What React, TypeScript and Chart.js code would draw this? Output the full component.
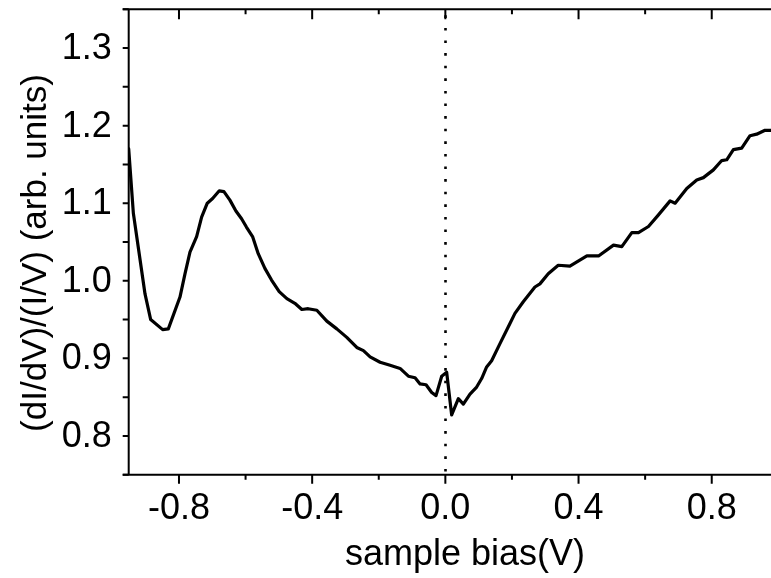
import React, { useEffect, useRef } from "react";
import { Chart, registerables } from "chart.js";

Chart.register(...registerables);

// sample bias (V)
const biasV: number[] = [
  -0.951, -0.937, -0.902, -0.885, -0.849, -0.832, -0.797, -0.782, -0.767, -0.747,
  -0.732, -0.715, -0.699, -0.679, -0.665, -0.647, -0.629, -0.612, -0.597, -0.579,
  -0.562, -0.542, -0.522, -0.499, -0.476, -0.452, -0.431, -0.412, -0.386, -0.356,
  -0.326, -0.296, -0.266, -0.246, -0.226, -0.196, -0.166, -0.136, -0.111, -0.091,
  -0.076, -0.058, -0.041, -0.028, -0.011, 0.004, 0.019, 0.039, 0.054, 0.074,
  0.094, 0.109, 0.124, 0.139, 0.164, 0.194, 0.209, 0.234, 0.269, 0.284,
  0.309, 0.339, 0.374, 0.425, 0.46, 0.505, 0.53, 0.56, 0.58, 0.61,
  0.64, 0.675, 0.69, 0.725, 0.755, 0.775, 0.805, 0.83, 0.845, 0.865,
  0.89, 0.915, 0.935, 0.96, 0.978,
];

// (dI/dV)/(I/V)
const normCond: number[] = [
  1.17, 1.087, 0.983, 0.95, 0.937, 0.938, 0.979, 1.009, 1.037, 1.057,
  1.082, 1.1, 1.106, 1.116, 1.115, 1.104, 1.09, 1.08, 1.069, 1.057,
  1.035, 1.016, 1.001, 0.986, 0.977, 0.971, 0.963, 0.964, 0.962, 0.948,
  0.938, 0.927, 0.914, 0.91, 0.902, 0.895, 0.891, 0.887, 0.877, 0.875,
  0.867, 0.866, 0.856, 0.852, 0.877, 0.882, 0.827, 0.848, 0.841, 0.854,
  0.863, 0.874, 0.889, 0.897, 0.919, 0.945, 0.958, 0.973, 0.992, 0.996,
  1.009, 1.02, 1.019, 1.032, 1.032, 1.046, 1.044, 1.062, 1.062, 1.07,
  1.085, 1.103, 1.1, 1.119, 1.13, 1.133, 1.143, 1.155, 1.156, 1.169,
  1.171, 1.187, 1.189, 1.194, 1.194,
];

const xMajorTicks: number[] = [-0.8, -0.4, 0.0, 0.4, 0.8];
const xMinorTicks: number[] = [-0.6, -0.2, 0.2, 0.6];
const xTickLabels: string[] = ["-0.8", "-0.4", "0.0", "0.4", "0.8"];
const yMajorTicks: number[] = [0.8, 0.9, 1.0, 1.1, 1.2, 1.3];
const yMinorTicks: number[] = [0.75, 0.85, 0.95, 1.05, 1.15, 1.25, 1.35];
const yTickLabels: string[] = ["0.8", "0.9", "1.0", "1.1", "1.2", "1.3"];
const xTitle = "sample bias(V)";
const yTitle = "(dI/dV)/(I/V) (arb. units)";

const FONT = '"Liberation Sans", Arial, sans-serif';

const axesPlugin = {
  id: "originAxes",
  afterDraw(chart: any) {
    const { ctx, chartArea, scales } = chart;
    const xs = scales.x;
    const ys = scales.y;
    const { left, right, top, bottom } = chartArea;
    ctx.save();
    ctx.strokeStyle = "#000";
    ctx.fillStyle = "#000";
    ctx.lineWidth = 2;
    ctx.lineCap = "butt";

    // dotted zero line
    ctx.save();
    ctx.setLineDash([2.6, 10]);
    ctx.lineWidth = 2.6;
    const x0 = Math.round(xs.getPixelForValue(0)) + 0.5;
    ctx.beginPath();
    ctx.moveTo(x0, top + 6);
    ctx.lineTo(x0, bottom);
    ctx.stroke();
    ctx.restore();

    // spines
    ctx.beginPath();
    ctx.moveTo(left, top);
    ctx.lineTo(left, bottom);
    ctx.moveTo(left - 6, top);
    ctx.lineTo(right, top);
    ctx.moveTo(left - 6, bottom);
    ctx.lineTo(right, bottom);
    ctx.stroke();

    // y ticks (outward, left)
    ctx.beginPath();
    [...yMajorTicks, ...yMinorTicks].forEach((v) => {
      const y = ys.getPixelForValue(v);
      ctx.moveTo(left - 6, y);
      ctx.lineTo(left, y);
    });
    // x ticks: bottom outward, top inward
    xMajorTicks.forEach((v) => {
      const x = xs.getPixelForValue(v);
      ctx.moveTo(x, bottom);
      ctx.lineTo(x, bottom + 9);
      ctx.moveTo(x, top);
      ctx.lineTo(x, top + 10);
    });
    xMinorTicks.forEach((v) => {
      const x = xs.getPixelForValue(v);
      ctx.moveTo(x, bottom);
      ctx.lineTo(x, bottom + 5);
      ctx.moveTo(x, top);
      ctx.lineTo(x, top + 5);
    });
    ctx.stroke();

    // tick labels
    ctx.font = `36px ${FONT}`;
    ctx.textAlign = "right";
    ctx.textBaseline = "middle";
    yMajorTicks.forEach((v, i) => {
      ctx.fillText(yTickLabels[i], left - 17, ys.getPixelForValue(v) + 1);
    });
    ctx.textAlign = "center";
    ctx.textBaseline = "alphabetic";
    xMajorTicks.forEach((v, i) => {
      ctx.fillText(xTickLabels[i], xs.getPixelForValue(v), bottom + 44);
    });

    // axis titles
    ctx.font = `36px ${FONT}`;
    ctx.fillText(xTitle, 465, 565);
    ctx.save();
    ctx.translate(46, 253);
    ctx.rotate(-Math.PI / 2);
    ctx.font = `35px ${FONT}`;
    ctx.textAlign = "center";
    ctx.fillText(yTitle, 0, 0);
    ctx.restore();

    ctx.restore();
  },
};

export default function App() {
  const canvasRef = useRef<HTMLCanvasElement | null>(null);

  useEffect(() => {
    if (!canvasRef.current) return;
    const data = biasV.map((x, i) => ({ x, y: normCond[i] }));
    const chart = new Chart(canvasRef.current, {
      type: "line",
      data: {
        datasets: [
          {
            data,
            borderColor: "#000",
            borderWidth: 3.2,
            pointRadius: 0,
            tension: 0,
            borderJoinStyle: "round",
            borderCapStyle: "round",
            fill: false,
          },
        ],
      },
      options: {
        animation: false,
        responsive: false,
        devicePixelRatio: 1,
        parsing: true,
        layout: { padding: { left: 128.7, top: 9.3, right: 0, bottom: 103.3 } },
        plugins: {
          legend: { display: false },
          tooltip: { enabled: false },
          title: { display: false },
        },
        scales: {
          x: { type: "linear", min: -0.951, max: 0.978, display: false },
          y: { type: "linear", min: 0.75, max: 1.35, display: false },
        },
      },
      plugins: [axesPlugin],
    });
    return () => chart.destroy();
  }, []);

  return (
    <div style={{ position: "fixed", left: 0, top: 0, width: 771, height: 578, background: "#fff" }}>
      <canvas ref={canvasRef} width={771} height={578} style={{ display: "block" }} />
    </div>
  );
}
